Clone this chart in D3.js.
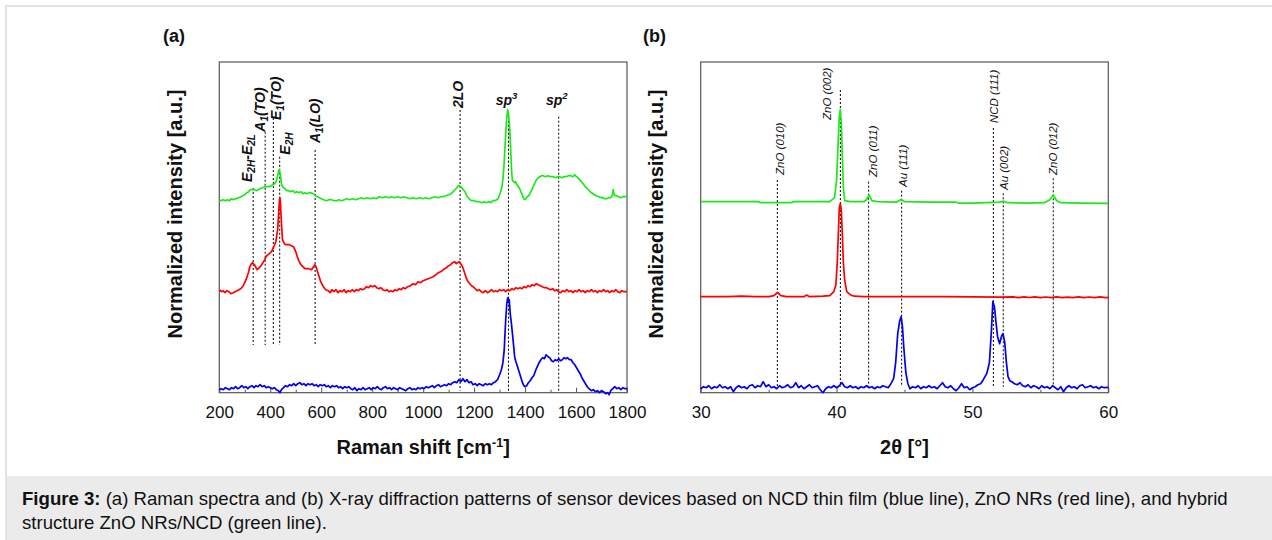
<!DOCTYPE html>
<html><head><meta charset="utf-8">
<script src="https://cdn.jsdelivr.net/npm/d3@7"></script>
<style>body{margin:0;background:#fff}text{font-family:"Liberation Sans",Arial,sans-serif}</style>
</head><body><svg id="c" width="1272" height="540"></svg>
<script>
// ---------------- DATA ----------------
const ramanMajorTicks=[200,400,600,800,1000,1200,1400,1600,1800];
const ramanMinorTicks=[300,500,700,900,1100,1300,1500,1700];
const xrdMajorTicks=[30,40,50,60];
const xrdMinorTicks=[35,45,55];

// Raman spectra [shift cm-1, intensity a.u.]
const ramanBlue=[[200,3],[208,4],[216,3],[224,5],[232,4],[240,3],[248,5],[256,4],[264,6],[272,4],[280,5],[288,7],[296,5],[304,6],[312,4],[320,6],[328,7],[336,5],[344,7],[352,6],[360,8],[368,6],[376,7],[384,5],[392,6],[400,5],[408,4],[416,5],[424,3],[432,2],[438,0],[444,3],[452,5],[460,7],[468,6],[476,8],[484,7],[492,9],[500,7],[508,9],[516,10],[524,8],[532,9],[540,7],[548,9],[556,8],[564,9],[572,7],[580,8],[588,6],[596,8],[604,7],[612,8],[620,6],[628,7],[636,5],[644,7],[652,6],[660,7],[668,5],[676,6],[684,4],[692,6],[700,5],[708,6],[716,4],[724,3],[732,5],[740,2],[748,4],[756,3],[764,5],[772,3],[780,4],[788,5],[796,3],[804,5],[812,4],[820,6],[828,4],[836,3],[844,5],[852,6],[860,4],[868,5],[876,3],[884,5],[892,4],[900,3],[908,5],[916,4],[924,3],[932,2],[940,4],[948,5],[956,3],[964,4],[972,3],[980,5],[988,4],[996,5],[1004,4],[1012,6],[1020,5],[1028,6],[1036,7],[1044,5],[1052,7],[1060,8],[1068,6],[1076,7],[1084,8],[1092,7],[1100,9],[1108,8],[1116,10],[1124,11],[1132,10],[1140,13],[1148,11],[1156,14],[1164,11],[1172,13],[1180,10],[1188,11],[1196,8],[1204,9],[1212,7],[1220,9],[1228,8],[1236,7],[1244,9],[1252,8],[1260,9],[1268,8],[1276,10],[1284,11],[1292,13],[1300,18],[1307,23],[1313,30],[1318,42],[1321,58],[1324,73],[1328,88],[1331,94],[1333,95],[1336,90],[1338,93],[1340,85],[1343,76],[1346,70],[1352,55],[1359,36],[1364,31],[1368,28],[1374,23],[1379,19],[1385,14],[1390,10],[1395,7],[1399,6],[1406,7],[1413,10],[1420,12],[1427,15],[1434,17],[1441,22],[1448,26],[1455,30],[1462,33],[1469,35],[1476,34],[1483,38],[1490,36],[1497,35],[1504,32],[1511,31],[1518,33],[1525,32],[1532,34],[1539,32],[1546,33],[1553,35],[1560,34],[1567,35],[1574,33],[1581,33],[1588,30],[1595,28],[1602,25],[1609,22],[1616,19],[1623,15],[1630,12],[1637,9],[1644,6],[1651,4],[1660,2],[1668,3],[1676,1],[1684,2],[1692,0],[1700,2],[1708,1],[1716,-1],[1724,0],[1730,-2],[1736,2],[1744,4],[1752,6],[1760,4],[1768,5],[1776,3],[1784,5],[1792,4],[1800,4]];
const ramanRed=[[200,103],[208,101],[215,102],[222,100],[230,102],[238,101],[245,99],[255,100],[262,101],[270,102],[277,103],[284,104],[294,107],[305,113],[314,120],[320,126],[326,129],[331,130],[338,128],[344,125],[349,123],[357,125],[366,128],[376,132],[386,137],[396,139],[405,141],[414,146],[422,151],[429,163],[433,180],[436,193],[438,195],[440,189],[442,179],[445,165],[448,153],[455,149],[462,148],[475,148],[491,146],[500,141],[510,133],[520,128],[536,124],[550,124],[562,123],[570,126],[575,128],[581,125],[588,119],[598,111],[608,106],[618,103],[627,102],[635,100],[642,103],[650,101],[658,103],[666,100],[674,102],[682,101],[690,103],[698,100],[706,102],[714,101],[722,103],[730,101],[738,103],[746,102],[754,104],[762,103],[770,104],[778,106],[786,105],[794,107],[802,106],[810,107],[818,105],[826,104],[834,105],[842,103],[850,102],[858,103],[866,101],[874,102],[882,101],[890,103],[898,102],[906,104],[914,103],[922,105],[930,104],[940,106],[950,107],[961,109],[970,108],[980,111],[990,110],[1000,112],[1010,113],[1020,114],[1030,115],[1039,116],[1050,118],[1060,120],[1068,121],[1075,122],[1084,124],[1092,125],[1100,127],[1108,128],[1116,130],[1124,131],[1130,129],[1135,130],[1142,131],[1150,128],[1156,125],[1160,122],[1165,118],[1170,114],[1176,111],[1183,109],[1190,107],[1196,106],[1204,104],[1212,102],[1220,103],[1228,101],[1236,100],[1244,102],[1252,100],[1260,101],[1268,103],[1276,101],[1284,102],[1292,101],[1300,103],[1308,102],[1316,103],[1324,101],[1332,103],[1340,102],[1348,104],[1356,103],[1364,105],[1372,104],[1380,105],[1388,104],[1396,106],[1404,105],[1412,107],[1420,106],[1428,108],[1436,107],[1444,109],[1452,108],[1460,107],[1468,106],[1476,105],[1484,105],[1492,104],[1500,103],[1508,104],[1516,102],[1524,103],[1532,101],[1540,100],[1548,102],[1556,101],[1564,103],[1572,101],[1580,102],[1588,100],[1596,102],[1604,101],[1612,103],[1620,101],[1628,102],[1636,100],[1644,102],[1652,101],[1660,103],[1668,101],[1676,102],[1684,100],[1692,102],[1700,101],[1708,103],[1716,101],[1724,102],[1732,100],[1740,102],[1748,101],[1756,103],[1764,101],[1772,100],[1780,102],[1788,101],[1800,101]];
const ramanGreen=[[200,193],[208,192],[216,193],[224,192],[232,193],[240,192],[248,194],[255,193],[262,194],[268,194],[276,195],[285,196],[292,197],[300,198],[308,200],[315,201],[321,203],[327,203],[336,203],[346,202],[353,203],[360,204],[370,205],[379,206],[388,206],[395,206],[403,207],[410,208],[418,209],[422,211],[425,213],[430,218],[433,222],[435,223],[437,221],[439,219],[444,209],[448,206],[452,205],[458,204],[464,202],[472,202],[480,201],[488,202],[496,200],[504,201],[512,200],[520,201],[528,199],[536,200],[544,199],[552,200],[560,200],[569,199],[577,197],[585,196],[593,195],[600,194],[610,193],[621,192],[630,193],[640,193],[650,192],[660,192],[670,193],[680,192],[690,193],[700,194],[713,193],[724,194],[735,193],[746,194],[757,195],[768,194],[780,195],[792,194],[804,195],[816,194],[828,196],[840,195],[852,196],[864,195],[876,196],[888,195],[900,196],[912,195],[924,196],[936,195],[948,194],[960,195],[974,194],[986,195],[998,194],[1010,195],[1022,194],[1034,195],[1046,196],[1058,195],[1070,196],[1079,196],[1090,197],[1100,198],[1110,199],[1118,201],[1125,203],[1132,205],[1138,207],[1142,207],[1147,206],[1152,205],[1158,203],[1164,201],[1169,198],[1174,196],[1180,194],[1184,193],[1192,192],[1200,192],[1210,191],[1220,191],[1230,190],[1240,191],[1249,190],[1258,191],[1266,190],[1274,192],[1282,192],[1288,193],[1294,194],[1300,198],[1305,202],[1310,207],[1314,216],[1318,230],[1320,240],[1324,259],[1328,275],[1332,283],[1336,276],[1340,263],[1344,240],[1347,222],[1350,213],[1354,211],[1358,210],[1362,211],[1366,209],[1372,207],[1379,204],[1385,200],[1390,197],[1395,194],[1399,193],[1404,194],[1408,196],[1414,197],[1419,199],[1425,202],[1430,205],[1437,209],[1445,213],[1452,215],[1458,216],[1465,217],[1471,217],[1480,216],[1490,217],[1500,216],[1510,216],[1520,215],[1528,216],[1536,216],[1545,215],[1552,216],[1560,216],[1570,217],[1580,217],[1588,216],[1595,218],[1602,216],[1610,214],[1618,212],[1628,209],[1636,206],[1645,204],[1655,201],[1667,199],[1678,197],[1690,196],[1698,195],[1705,195],[1712,194],[1720,194],[1728,195],[1735,195],[1740,196],[1743,199],[1746,203],[1749,199],[1752,197],[1759,197],[1767,196],[1775,195],[1783,196],[1790,196],[1800,196]];

// XRD patterns [2theta deg, intensity a.u.]
const xrdBlue=[[30,4],[30.2,6],[30.4,5],[30.6,7],[30.8,4],[31,6],[31.2,5],[31.4,8],[31.6,5],[31.8,6],[32,4],[32.2,6],[32.4,1],[32.6,5],[32.8,7],[33,5],[33.2,6],[33.4,4],[33.6,7],[33.8,8],[34,5],[34.2,7],[34.4,6],[34.6,11],[34.8,6],[35,8],[35.2,5],[35.4,6],[35.6,4],[35.8,7],[36,5],[36.2,6],[36.4,8],[36.6,5],[36.8,6],[37,10],[37.2,5],[37.4,7],[37.6,4],[37.8,6],[38,8],[38.2,5],[38.4,6],[38.6,7],[38.8,3],[39,0],[39.2,4],[39.4,6],[39.6,5],[39.8,7],[40,5],[40.2,7],[40.4,10],[40.6,6],[40.8,5],[41,7],[41.2,5],[41.4,6],[41.6,4],[41.8,6],[42,5],[42.2,7],[42.4,5],[42.6,6],[42.8,4],[43,6],[43.2,5],[43.4,7],[43.6,6],[43.8,5],[44,9],[44.2,14],[44.35,30],[44.5,59],[44.65,72],[44.75,76],[44.85,66],[44.95,45],[45.1,20],[45.25,9],[45.4,4],[45.6,6],[45.8,5],[46,7],[46.2,4],[46.4,6],[46.6,5],[46.8,7],[47,5],[47.2,6],[47.4,4],[47.6,7],[47.8,10],[48,6],[48.2,5],[48.4,7],[48.6,4],[48.8,2],[49,5],[49.2,9],[49.4,5],[49.6,6],[49.8,3],[50,5],[50.2,6],[50.4,8],[50.6,9],[50.8,13],[51.05,19],[51.25,30],[51.4,63],[51.5,91],[51.62,86],[51.72,72],[51.85,56],[52,49],[52.15,57],[52.25,59],[52.38,50],[52.5,30],[52.62,16],[52.75,12],[52.9,11],[53.1,9],[53.3,8],[53.5,10],[53.7,7],[53.9,6],[54.1,8],[54.3,5],[54.5,7],[54.7,6],[54.9,4],[55.1,7],[55.3,5],[55.5,6],[55.7,4],[55.9,7],[56.1,5],[56.3,3],[56.5,6],[56.7,1],[56.9,5],[57.1,7],[57.3,5],[57.5,6],[57.7,4],[57.9,7],[58.1,8],[58.3,5],[58.5,6],[58.7,7],[58.9,5],[59.1,6],[59.3,4],[59.5,6],[59.7,5],[60,5.4]];
const xrdRed=[[30,96],[31,96],[32,96],[33,96.5],[34,96],[35,96],[35.4,97],[35.65,100.4],[35.9,97],[36.3,96],[37,96],[37.6,96],[37.8,97.7],[38,96],[39,96.5],[39.5,97],[39.8,101],[39.95,108],[40.05,130],[40.12,155],[40.2,185],[40.28,189],[40.35,182],[40.42,160],[40.5,130],[40.6,112],[40.75,101],[41,98],[41.3,96.5],[42,96],[44,96],[46,96],[48,96],[50,95.8],[52,95.5],[53,95.8],[53.4,95],[53.8,95.8],[54.2,95.2],[54.6,95.9],[55,95],[55.4,95.7],[55.8,95.1],[56.2,95.8],[56.6,95],[57,95.6],[57.4,95.1],[57.8,95.9],[58.2,95],[58.6,95.7],[59,95.1],[59.4,95.8],[59.8,95],[60,95.4]];
const xrdGreen=[[30,191],[32,191],[34.3,191],[34.4,190],[36.7,190],[36.8,191],[38,191],[39.5,191],[39.85,195],[40,212],[40.1,245],[40.2,276],[40.28,283],[40.35,270],[40.42,239],[40.5,205],[40.6,192],[41,191],[42,191],[42.2,193],[42.4,197.7],[42.6,192],[43,191],[44.4,190.5],[44.7,193],[44.8,193],[45,191],[47,190.5],[48.8,190.5],[49,189.5],[50,189.5],[51,190],[52,190.5],[52.3,191.5],[52.6,190],[54,189.5],[55.3,190],[55.7,193],[55.95,197.7],[56.2,192],[56.5,190],[58,189.5],[60,189.4]];

// peak assignments
const ramanPeaks=[333,380,412,437,576,1145,1335,1532];
const ramanPeakTops=[204.7,261,274.7,236,242.7,282.7,276,276];
const ramanPeakBottoms=[47.7,47.7,47.7,47.7,47.7,2,2,2];
const xrdPeaks=[35.64,40.28,42.36,44.79,51.54,52.27,55.95];
const xrdPeakTops=[212.7,302.7,211,202,264.7,199.4,214.4];
const xrdPeakNames=["ZnO (010)","ZnO (002)","ZnO (011)","Au (111)","NCD (111)","Au (002)","ZnO (012)"];

// ---------------- LAYOUT ----------------
const svg=d3.select("#c");
const W=1272,H=540;
const plotTop=62,plotBottom=392.7;
const pa={l:219.3,r:627},pb={l:700.7,r:1108.3};
const y=d3.scaleLinear().domain([0,330.7]).range([plotBottom,plotTop]);
const xa=d3.scaleLinear().domain([200,1800]).range([pa.l,pa.r]);
const xb=d3.scaleLinear().domain([30,60]).range([pb.l,pb.r]);

// page frame & caption
svg.append("rect").attr("x",6).attr("y",6).attr("width",W).attr("height",H).attr("fill","none").attr("stroke","#dcdcdc").attr("stroke-width",1.5);
svg.append("rect").attr("x",7).attr("y",476).attr("width",W-7).attr("height",H-476).attr("fill","#ebebeb");
const capSize=18.6;
const cap=svg.append("text").attr("x",22).attr("y",505).attr("font-size",capSize).attr("fill","#111");
cap.append("tspan").attr("font-weight","bold").text("Figure 3:");
cap.append("tspan").text(" (a) Raman spectra and (b) X-ray diffraction patterns of sensor devices based on NCD thin film (blue line), ZnO NRs (red line), and hybrid");
svg.append("text").attr("x",22).attr("y",529).attr("font-size",capSize).attr("fill","#111").text("structure ZnO NRs/NCD (green line).");

function panel(x,major,minor,fmt){
  const g=svg.append("g");
  g.append("g").attr("transform",`translate(0,${plotBottom})`)
    .call(d3.axisBottom(x).tickValues(minor).tickSizeInner(-3).tickSizeOuter(0).tickFormat(""))
    .call(a=>{a.select(".domain").remove();a.selectAll("line").attr("stroke","#555");});
  g.append("g").attr("transform",`translate(0,${plotBottom})`)
    .call(d3.axisBottom(x).tickValues(major).tickSizeInner(-5).tickSizeOuter(0).tickPadding(13).tickFormat(fmt))
    .call(a=>{a.select(".domain").remove();a.selectAll("line").attr("stroke","#555");
      a.selectAll("text").attr("font-size",17).attr("font-family","Liberation Sans, Arial").attr("fill","#111");});
  const [x0,x1]=x.range();
  g.append("rect").attr("x",x0).attr("y",plotTop).attr("width",x1-x0).attr("height",plotBottom-plotTop)
    .attr("fill","none").attr("stroke","#555").attr("stroke-width",1.2);
  return g;
}
panel(xa,ramanMajorTicks,ramanMinorTicks,d3.format("d"));
panel(xb,xrdMajorTicks,xrdMinorTicks,d3.format("d"));

// dotted guides
function guides(x,peaks,tops,bottoms){
  svg.append("g").selectAll("line").data(peaks).join("line")
    .attr("x1",d=>x(d)).attr("x2",d=>x(d))
    .attr("y1",(d,i)=>y(tops[i])).attr("y2",(d,i)=>y(bottoms?bottoms[i]:6))
    .attr("stroke","#000").attr("stroke-width",1).attr("stroke-dasharray","2,2");
}
guides(xa,ramanPeaks,ramanPeakTops,ramanPeakBottoms);
guides(xb,xrdPeaks,xrdPeakTops,null);

// curves
const colors={blue:"#0000f0",red:"#ff0000",green:"#1aea1a"};
function curve(x,data,c){
  const xd=x.domain();
  svg.append("path").datum(data.filter(d=>d[0]>=xd[0]&&d[0]<=xd[1]))
    .attr("d",d3.line().x(d=>x(d[0])).y(d=>y(d[1])))
    .attr("fill","none").attr("stroke",c).attr("stroke-width",1.7).attr("stroke-linejoin","round");
}
curve(xa,ramanBlue,colors.blue);curve(xa,ramanRed,colors.red);curve(xa,ramanGreen,colors.green);
curve(xb,xrdBlue,colors.blue);curve(xb,xrdRed,colors.red);curve(xb,xrdGreen,colors.green);

// rotated labels
function rotLabel(px,pyBottom,parts,size,weight){
  const t=svg.append("text").attr("transform",`translate(${px},${pyBottom}) rotate(-90)`)
    .attr("font-size",size).attr("font-style","italic").attr("font-weight",weight).attr("fill","#111");
  let shift=0;
  parts.forEach(p=>{
    const s=t.append("tspan").text(p[0]);
    let want=0;
    if(p[1]==="sub"){want=3.6;s.attr("font-size",size*0.72);}
    if(want!==shift){s.attr("dy",want-shift);shift=want;}
  });
}
const ramanLabelParts=[
  [["E"],["2H","sub"],["-E"],["2L","sub"]],
  [["A"],["1","sub"],["(TO)"]],
  [["E"],["1","sub"],["(TO)"]],
  [["E"],["2H","sub"]],
  [["A"],["1","sub"],["(LO)"]],
  [["2LO"]]
];
const ramanLabelDx=[-1.5,-0.5,7.5,10,4.5,2.5];
const ramanLabelGap=[6,0,-2,2,7,2];
ramanLabelParts.forEach((p,i)=>{
  rotLabel(xa(ramanPeaks[i])+ramanLabelDx[i],y(ramanPeakTops[i])-ramanLabelGap[i],p,14,"bold");
});
// sp3 / sp2 horizontal
[[6,"3"],[7,"2"]].forEach(([i,s])=>{
  const t=svg.append("text").attr("x",xa(ramanPeaks[i])-2).attr("y",y(ramanPeakTops[i])-12)
    .attr("text-anchor","middle").attr("font-size",14).attr("font-style","italic").attr("font-weight","bold").attr("fill","#111");
  t.append("tspan").text("sp");
  t.append("tspan").attr("dy",-5.5).attr("font-size",9.5).text(s);
});

// XRD labels (rotated italic)
const xrdLabelDx=[7,-9,8,5,5,5,4];
const xrdLabelBottom=[175,120,177,187,123,190,175];
xrdPeakNames.forEach((n,i)=>{
  rotLabel(xb(xrdPeaks[i])+xrdLabelDx[i],xrdLabelBottom[i],[[n]],11.5,"normal");
});

// titles
svg.append("text").attr("x",163).attr("y",42).attr("font-size",18).attr("font-weight","bold").attr("fill","#111").text("(a)");
svg.append("text").attr("x",643).attr("y",42).attr("font-size",18).attr("font-weight","bold").attr("fill","#111").text("(b)");
[182,663].forEach(cx=>{
  svg.append("text").attr("transform",`translate(${cx},214) rotate(-90)`).attr("text-anchor","middle")
    .attr("font-size",20).attr("font-weight","bold").attr("fill","#111").text("Normalized intensity [a.u.]");
});
const xt=svg.append("text").attr("x",xa(1000)).attr("y",454).attr("text-anchor","middle").attr("font-size",20).attr("font-weight","bold").attr("fill","#111");
xt.append("tspan").text("Raman shift [cm");
xt.append("tspan").attr("dy",-7).attr("font-size",12.5).text("-1");
xt.append("tspan").attr("dy",7).text("]");
svg.append("text").attr("x",xb(45)).attr("y",454).attr("text-anchor","middle").attr("font-size",20).attr("font-weight","bold")
  .attr("font-family","Liberation Serif, Times New Roman, serif").attr("fill","#111").text("2θ [°]");
</script></body></html>
